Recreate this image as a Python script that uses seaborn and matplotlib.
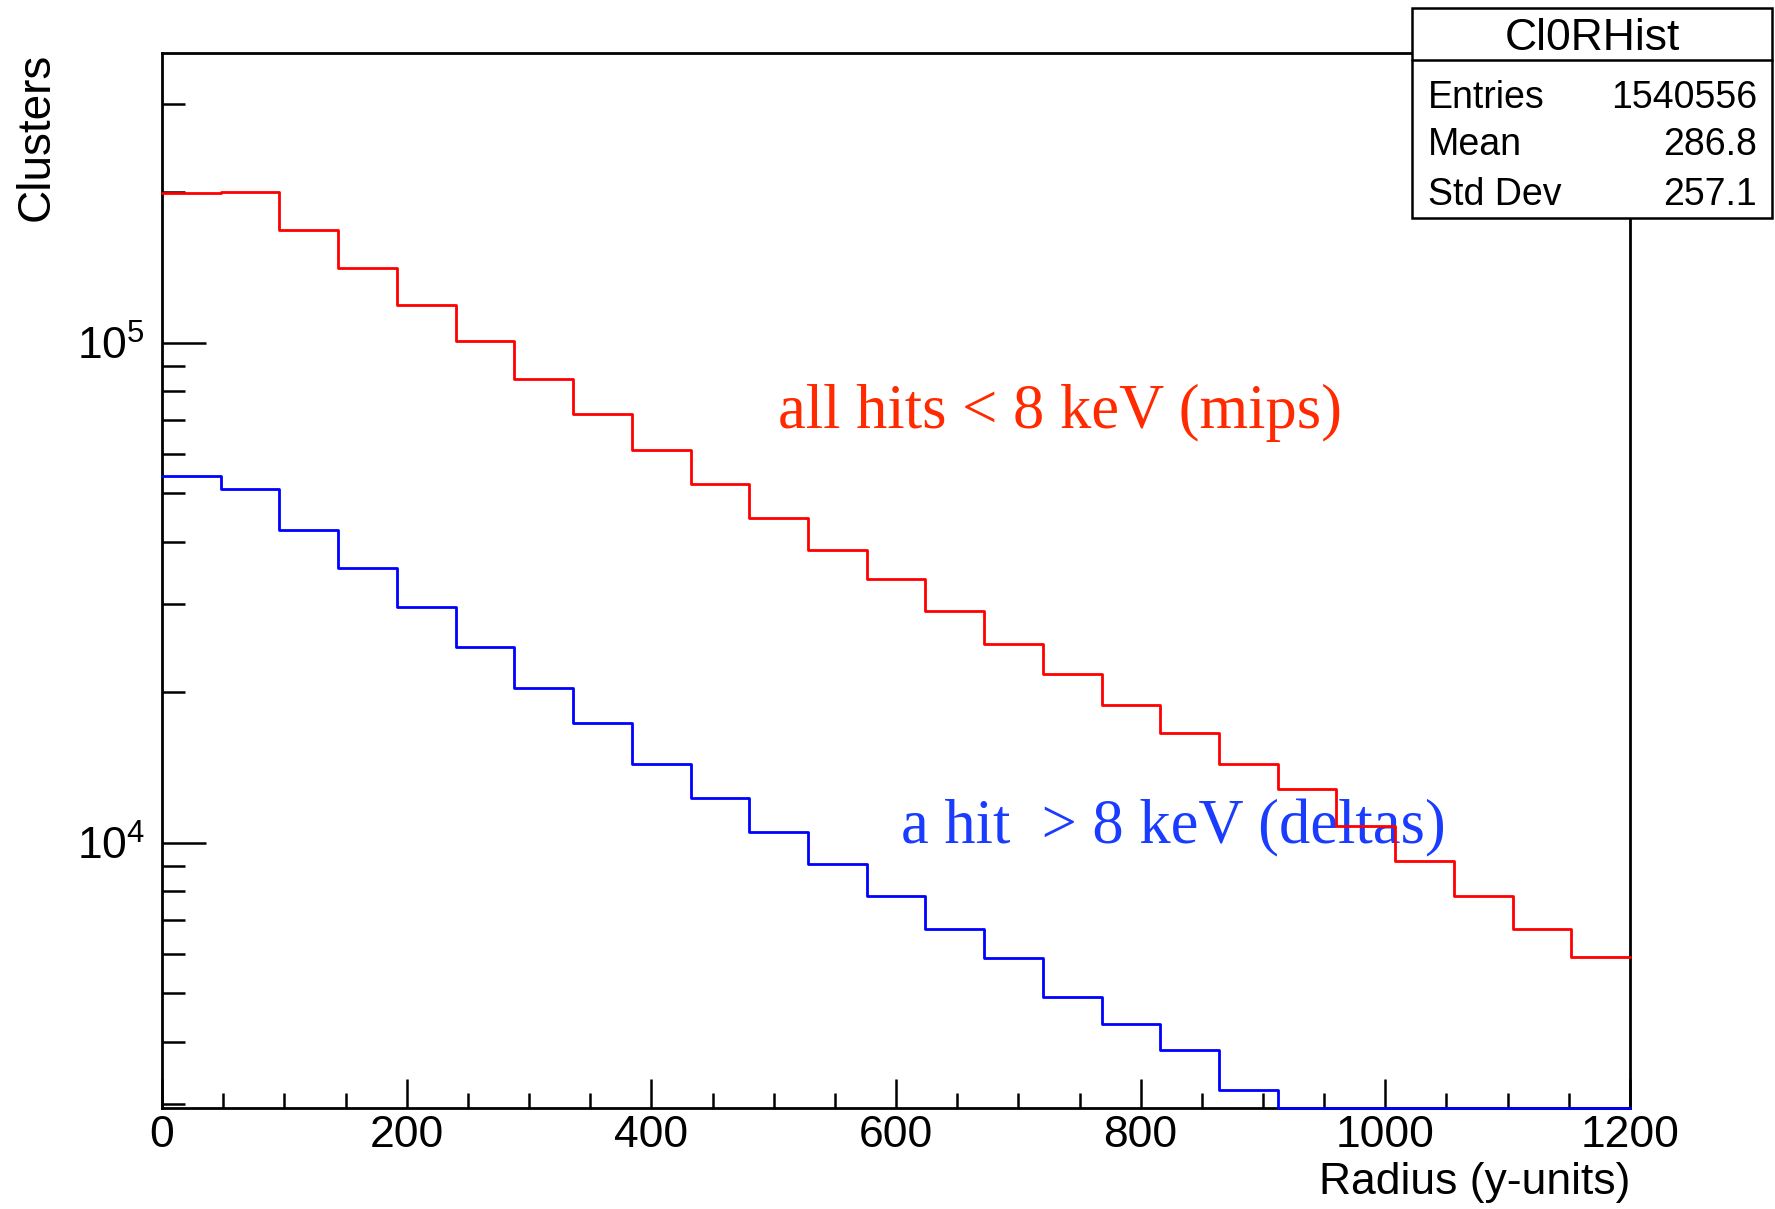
import numpy as np
import pandas as pd
import matplotlib as mpl
import matplotlib.pyplot as plt
import matplotlib.patches as mpatches
from matplotlib.ticker import MultipleLocator, LogLocator, NullFormatter
import seaborn as sns

# binned histogram contents (25 bins, 0..1200)
bin_width = 48
x_range = (0, 1200)
mips_counts = [199000, 200500, 168000, 141000, 119000, 101000, 84700, 72000,
               61000, 52200, 44600, 38500, 33700, 29100, 25000, 21800,
               18900, 16600, 14400, 12800, 10800, 9200, 7830, 6730, 5910]
# last bins sit on the axis floor in the original
delta_counts = [54100, 51100, 42300, 35500, 29600, 24600, 20400, 17400,
                14400, 12300, 10500, 9060, 7830, 6730, 5880, 4920,
                4350, 3860, 3210, 2950, 2950, 2950, 2950, 2950, 2950]

stats_title = 'Cl0RHist'
stats_rows = [('Entries', '1540556'), ('Mean', '286.8'), ('Std Dev', '257.1')]

y_min, y_max = 2950, 380000

sns.set_style('ticks')
plt.rcParams['font.family'] = ['Liberation Sans', 'DejaVu Sans']
plt.rcParams['mathtext.fontset'] = 'custom'
plt.rcParams['mathtext.rm'] = 'Liberation Sans'
plt.rcParams['mathtext.default'] = 'regular'
plt.rcParams['text.color'] = 'black'
plt.rcParams['axes.labelcolor'] = 'black'

centers = np.arange(x_range[0], x_range[1], bin_width) + bin_width / 2
df = pd.DataFrame({'radius': np.concatenate([centers, centers]),
                   'clusters': mips_counts + delta_counts,
                   'sel': ['mips'] * len(centers) + ['deltas'] * len(centers)})

fig = plt.figure(figsize=(17.75, 12.09), dpi=100)
ax = fig.add_axes([0.0913, 0.0835, 0.827, 0.8727])

for sel, col in [('deltas', '#0000ff'), ('mips', '#ff0000')]:
    sub = df[df['sel'] == sel]
    sns.histplot(data=sub, x='radius', weights='clusters', binwidth=bin_width,
                 binrange=x_range, element='step', fill=False, color=col,
                 linewidth=2.0, ax=ax)

for ln in ax.lines:
    ln.set_zorder(4)
    ln.set_clip_on(False)

ax.set_yscale('log')
ax.set_xlim(*x_range)
ax.set_ylim(y_min, y_max)

ax.xaxis.set_major_locator(MultipleLocator(200))
ax.xaxis.set_minor_locator(MultipleLocator(50))
ax.yaxis.set_major_locator(LogLocator(base=10))
ax.yaxis.set_minor_locator(LogLocator(base=10, subs=np.arange(2, 10)))
ax.yaxis.set_minor_formatter(NullFormatter())

ax.tick_params(axis='both', which='both', direction='in', width=1.8,
               colors='black', labelcolor='black', labelsize=32,
               top=False, right=False)
ax.tick_params(axis='x', which='major', length=21, pad=5)
ax.tick_params(axis='x', which='minor', length=11)
ax.tick_params(axis='y', which='major', length=32, pad=12)
ax.tick_params(axis='y', which='minor', length=16.5)

for sp in ax.spines.values():
    sp.set_linewidth(2.0)
    sp.set_color('black')
    sp.set_zorder(3)

ax.set_xlabel('Radius (y-units)', fontsize=32, loc='right', labelpad=4, color='black')
ax.set_ylabel('Clusters', fontsize=33, loc='top', labelpad=13, color='black')

ax.text(0.4195, 0.645, 'all hits < 8 keV (mips)', transform=ax.transAxes,
        fontsize=45, family='Liberation Serif', color='#ff2a00',
        ha='left', va='baseline', zorder=1)
ax.text(0.5035, 0.2507, 'a hit  > 8 keV (deltas)', transform=ax.transAxes,
        fontsize=45, family='Liberation Serif', color='#1a3cff',
        ha='left', va='baseline', zorder=1)

# ROOT-like statistics box
bx0, bx1, by0, by1, bsep = 0.7955, 0.9985, 0.8197, 0.9934, 0.9504
fig.patches.append(mpatches.Rectangle((bx0, by0), bx1 - bx0, by1 - by0,
                                      transform=fig.transFigure, facecolor='white',
                                      edgecolor='black', linewidth=1.8, zorder=10))
fig.lines.append(mpl.lines.Line2D([bx0, bx1], [bsep, bsep], transform=fig.transFigure,
                                  color='black', linewidth=1.8, zorder=11))
fig.text((bx0 + bx1) / 2, 0.9586, stats_title, ha='center', va='baseline',
         fontsize=32, color='black', zorder=12)
for (name, val), yb in zip(stats_rows, [0.9107, 0.8718, 0.8304]):
    fig.text(0.8045, yb, name, ha='left', va='baseline', fontsize=27,
             color='black', zorder=12)
    fig.text(0.9900, yb, val, ha='right', va='baseline', fontsize=27,
             color='black', zorder=12)

mpl.rcParams['pdf.fonttype'] = 42
fig.savefig('out.png', dpi=100)
plt.close(fig)
